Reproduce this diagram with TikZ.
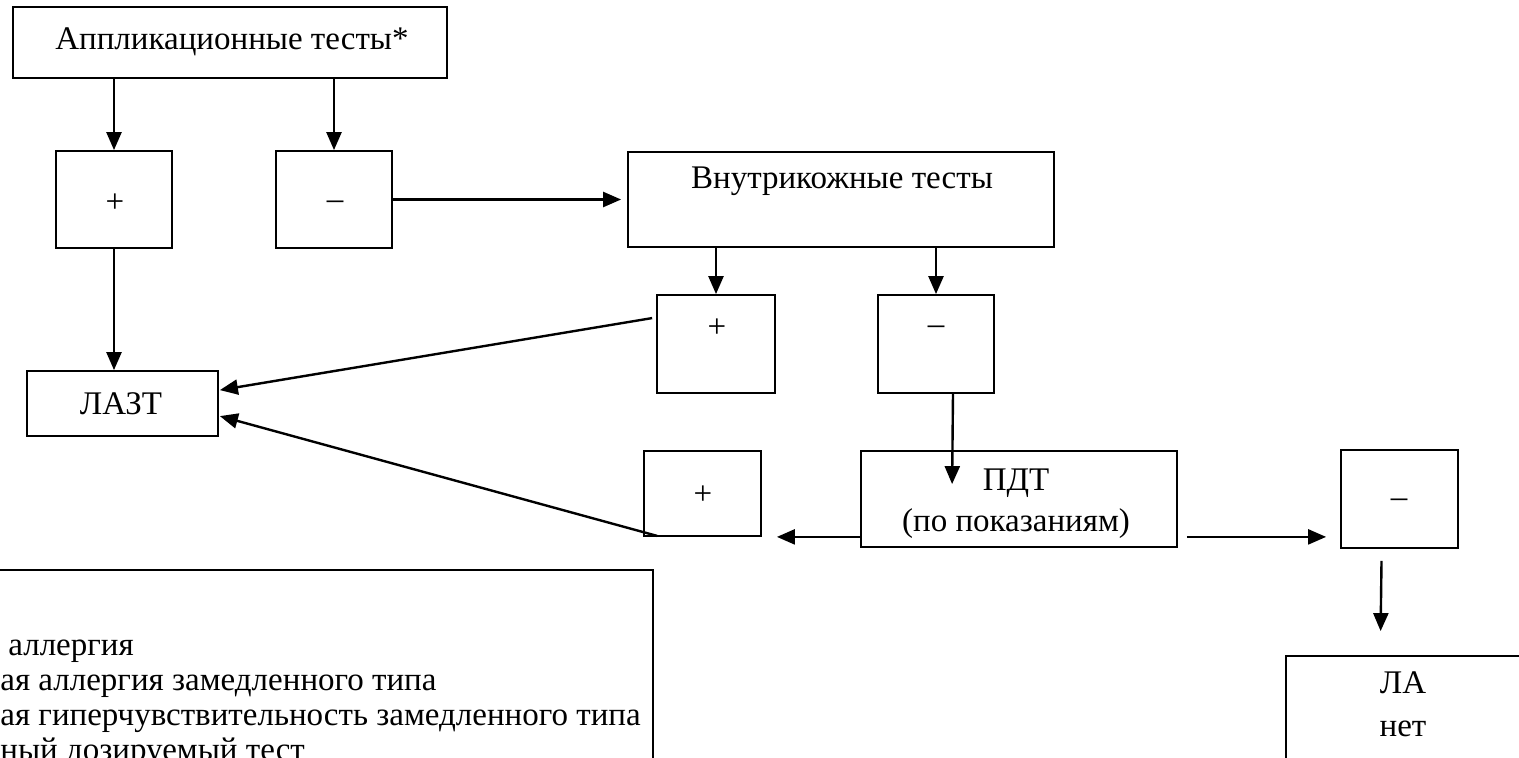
\documentclass[tikz,border=0pt]{standalone}
\usepackage{fontspec}
\setmainfont{Liberation Serif}
\usetikzlibrary{arrows.meta,calc}
\tikzset{
  box/.style={draw, line width=0.9pt, inner sep=0pt},
  arr/.style={line width=1.2pt, -{Triangle[width=7.5pt,length=9pt]}},
  txt/.style={inner sep=0pt, font=\fontsize{16.5}{18}\selectfont},
  lg/.style={inner sep=0pt, anchor=base west, font=\fontsize{16.5}{18}\selectfont}
}
\begin{document}
\begin{tikzpicture}[x=0.5pt,y=-0.5pt]
\useasboundingbox (0,0) rectangle (1519,758);
\clip (0,0) rectangle (1519,758);
\fill[white] (0,0) rectangle (1519,758);
% boxes
\node[box, minimum width=217pt, minimum height=35.5pt] (top) at (230,42.5) {};
\node[txt] (toptxt) at (232,42) {Аппликационные тесты*};
\node[box, minimum width=58pt, minimum height=48.5pt] (p1) at (114,199.5) {};
\node[txt] (p1txt) at (115,203) {+};
\node[box, minimum width=58pt, minimum height=48.5pt] (m1) at (334,199.5) {};
\node[txt] (m1txt) at (335,205) {–};
\node[box, minimum width=213pt, minimum height=47.5pt] (vnut) at (841,199.5) {};
\node[txt] (vnuttxt) at (842,181) {Внутрикожные тесты};
\node[box, minimum width=59pt, minimum height=49pt] (p2) at (716,344) {};
\node[txt] (p2txt) at (717,328) {+};
\node[box, minimum width=58pt, minimum height=49pt] (m2) at (936,344) {};
\node[txt] (m2txt) at (936,330) {–};
\node[box, minimum width=95.5pt, minimum height=32.5pt] (lazt) at (122.5,403.5) {};
\node[txt] (lazttxt) at (121,404) {ЛАЗТ};
\node[box, minimum width=58.5pt, minimum height=42.5pt] (p3) at (702.5,493.5) {};
\node[txt] (p3txt) at (703,495) {+};
\node[box, minimum width=158pt, minimum height=48pt] (pdt) at (1019,499) {};
\node[txt] (pdttxt1) at (1016,483) {ПДТ};
\node[txt] (pdttxt2) at (1016,524) {(по показаниям)};
\node[box, minimum width=58.5pt, minimum height=49pt] (m3) at (1399.5,499) {};
\node[txt] (m3txt) at (1399,503) {–};
\node[box, minimum width=117pt, minimum height=72pt] (la) at (1403,728) {};
\node[txt] (latxt1) at (1403,683) {ЛА};
\node[txt] (latxt2) at (1403,729) {нет};
% legend
\node[box, minimum width=331.5pt, minimum height=115pt] (legend) at (321.5,685) {};
\node[lg] (lg1) at (8,655) {аллергия};
\node[lg] (lg2) at (0,690) {ая аллергия замедленного типа};
\node[lg] (lg3) at (0,725) {ая гиперчувствительность замедленного типа};
\node[lg] (lg4) at (0,760) {ный дозируемый тест};
% connectors
\draw[arr] (top.south -| p1) -- (p1.north);
\draw[arr] (top.south -| m1) -- (m1.north);
\draw[arr] (m1.east) -- ($(vnut.west)+(-6,0)$);
\draw[arr] (vnut.south -| p2) -- (p2.north);
\draw[arr] (vnut.south -| m2) -- (m2.north);
\draw[arr] (p1.south) -- (p1.south |- lazt.north);
\draw[arr] ($(p2.north west)+(-4,24)$) -- ($(lazt.north east)+(1,20)$);
\draw[arr] ($(p3.south west)+(14,-1)$) -- ($(lazt.north east)+(1,46)$);
\draw[arr] ($(m2.south)+(17,-1)$) -- ($(pdt.north west)+(92,34)$);
\draw[arr] ($(pdt.south west)+(0,-11)$) -- ($(p3.south east)+(15,0)$);
\draw[arr] ($(pdt.south east)+(9,-11)$) -- ($(m3.south west)+(-14,-12)$);
\draw[arr] ($(m3.south)+(-18,12)$) -- ($(la.north west)+(95.5,-24)$);
\end{tikzpicture}
\end{document}
